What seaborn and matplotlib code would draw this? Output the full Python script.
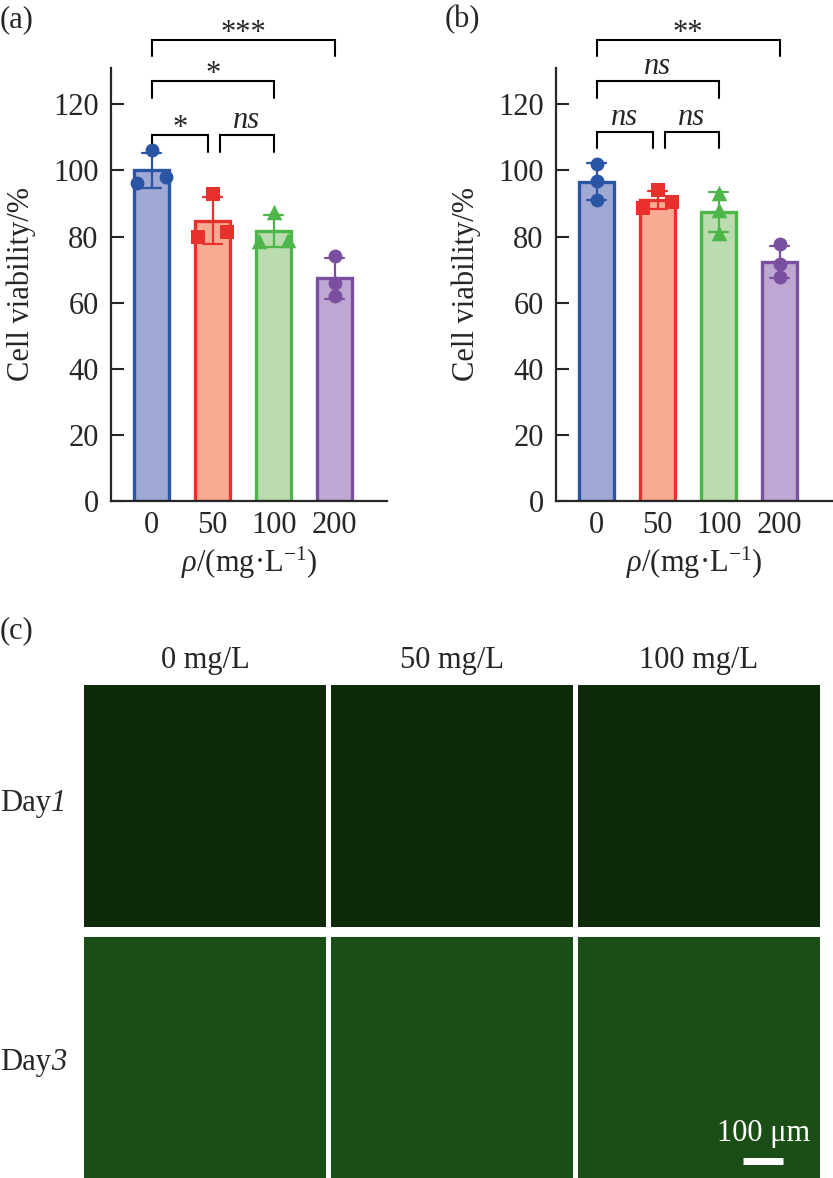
import numpy as np
import pandas as pd
import matplotlib as mpl
mpl.use('agg')
import matplotlib.pyplot as plt
import seaborn as sns

sns.set_style('ticks')
plt.rcParams['font.family'] = ['Liberation Serif', 'DejaVu Serif']
plt.rcParams['mathtext.fontset'] = 'custom'
plt.rcParams['mathtext.rm'] = 'Liberation Serif'
plt.rcParams['mathtext.it'] = 'Liberation Serif:italic'

# --- data
conc = ['0', '50', '100', '200']
viab_a = [[106.1, 96.1, 98.0], [93.0, 80.0, 81.3], [87.4, 78.7, 78.9], [74.2, 65.9, 62.1]]
viab_b = [[102.0, 96.8, 91.0], [94.0, 88.6, 90.4], [93.2, 88.0, 81.0], [77.6, 71.6, 67.8]]

# comparisons: (group i, group j, label)
comp_a = [(0, 3, '***'), (0, 2, '*'), (0, 1, '*'), (1, 2, 'ns')]
comp_b = [(0, 3, '**'), (0, 2, 'ns'), (0, 1, 'ns'), (1, 2, 'ns')]

img_cols = ['0 mg/L', '50 mg/L', '100 mg/L']
img_days = ['1', '3']

# --- styles
edge_cols = ['#2a55a5', '#e8302c', '#4cb748', '#7b4f9f']
fill_cols = ['#a0a8d4', '#f7ab93', '#badcaf', '#bea8d3']
markers = ['o', 's', '^', 'o']
msize = [100, 95, 125, 100]
fs = 22


def spread(vals, thr=3.0, dx=0.24):
    # put overlapping points side by side (like prism scatter)
    order = np.argsort(vals)
    off = np.zeros(len(vals))
    clusters = [[order[0]]]
    for k in order[1:]:
        if vals[k] - vals[clusters[-1][-1]] < thr:
            clusters[-1].append(k)
        else:
            clusters.append([k])
    for cl in clusters:
        n = len(cl)
        for m, k in enumerate(cl):
            off[k] = (m - (n - 1) / 2.) * 2 * dx / max(n - 1, 1) if n > 1 else 0.
    return off


def bar_panel(ax, vals, comps, small_y):
    df = pd.DataFrame({'conc': np.repeat(conc, 3),
                       'viab': np.concatenate(vals)})
    sns.barplot(data=df, x='conc', y='viab', hue='conc', order=conc,
                palette=fill_cols, saturation=1, errorbar='sd', capsize=0.31,
                width=0.57, err_kws={'linewidth': 1.6}, legend=False, ax=ax,
                zorder=2)
    for p in ax.patches:
        idx = int(round(p.get_x() + p.get_width() / 2))
        p.set_edgecolor(edge_cols[idx])
        p.set_linewidth(2.4)
    for ln in ax.lines:
        idx = int(round(np.nanmean(ln.get_xdata())))
        ln.set_color(edge_cols[idx])
        ln.set_zorder(3)
    for i, v in enumerate(vals):
        v = np.array(v)
        ax.scatter(i + spread(v), v, marker=markers[i], s=msize[i],
                   color=edge_cols[i], linewidths=0, zorder=4, clip_on=False)

    ax.set_xlim(-0.67, 3.86)
    ax.set_ylim(0, 131)
    ax.set_yticks(range(0, 121, 20))
    ax.set_xlabel(r'$\rho$/(mg·L$^{-1}$)', fontsize=fs, labelpad=4)
    ax.set_ylabel('Cell viability/%', fontsize=fs, labelpad=12)
    ax.tick_params(axis='y', direction='in', length=9, width=1.5, labelsize=fs, pad=9)
    ax.tick_params(axis='x', length=0, labelsize=fs, pad=7)
    sns.despine(ax=ax)
    for s in ['left', 'bottom']:
        ax.spines[s].set_linewidth(1.6)

    # significance brackets
    levels = {(0, 3): (139.5, 134.6), (0, 2): (127.1, 121.9)}
    for i, j, lab in comps:
        if (i, j) in levels:
            ytop, ybot = levels[(i, j)]
            x0, x1 = i, j
        else:
            ytop, ybot = small_y
            x0 = i + (0.12 if i > 0 else 0.)
            x1 = j - (0.08 if j - i == 1 and i == 0 else 0.)
        ax.plot([x0, x0, x1, x1], [ybot, ytop, ytop, ybot], color='k',
                lw=1.5, clip_on=False, solid_joinstyle='miter')
        if lab == 'ns':
            ax.annotate(lab, ((x0 + x1) / 2, ytop), xytext=(0, 5),
                        textcoords='offset points', ha='center', va='baseline',
                        fontsize=fs, style='italic', annotation_clip=False)
        else:
            ax.annotate(lab, ((x0 + x1) / 2, ytop), xytext=(0, -1),
                        textcoords='offset points', ha='center', va='baseline',
                        fontsize=fs, annotation_clip=False)


fig = plt.figure(figsize=(8.33, 11.78), dpi=100)
ax_a = fig.add_axes([0.1333, 0.5747, 0.3313, 0.3676])
ax_b = fig.add_axes([0.6675, 0.5747, 0.3313, 0.3676])
bar_panel(ax_a, viab_a, comp_a, (110.7, 105.5))
bar_panel(ax_b, viab_b, comp_b, (111.6, 106.7))

fig.text(0.0, 0.983, '(a)', fontsize=fs, va='center', ha='left')
fig.text(0.534, 0.983, '(b)', fontsize=fs, va='center', ha='left')
fig.text(0.0, 0.4643, '(c)', fontsize=fs, va='center', ha='left')

# --- (c) fluorescence image panels (placeholders)
col_left = [0.1008, 0.3974, 0.6939]
row_bottom = [0.2131, 0.0]
row_height = [0.2054, 0.2046]
row_y = [0.3115, 0.0917]
row_tint = ['#0e2a0b', '#1b4e16']
for r in range(2):
    for c in range(3):
        ax = fig.add_axes([col_left[c], row_bottom[r], 0.2905, row_height[r]])
        ax.set_facecolor(row_tint[r])
        ax.set_xticks([])
        ax.set_yticks([])
        for s in ax.spines.values():
            s.set_visible(False)
        if r == 1 and c == 2:
            ax.plot([0.682, 0.847], [0.07, 0.07], color='white', lw=5,
                    solid_capstyle='butt', transform=ax.transAxes)
            ax.text(0.765, 0.185, '100 μm', color='white', fontsize=fs,
                    ha='center', va='center', transform=ax.transAxes)
for c, lab in enumerate(img_cols):
    fig.text(col_left[c] + 0.2905 / 2, 0.4389, lab, fontsize=fs, ha='center', va='center')

renderer = fig.canvas.get_renderer()
for r, d in enumerate(img_days):
    t = fig.text(0.0, row_y[r], 'Day', fontsize=fs, ha='left', va='baseline')
    bb = t.get_window_extent(renderer).transformed(fig.transFigure.inverted())
    fig.text(bb.x1, row_y[r], d, fontsize=fs, style='italic', ha='left', va='baseline')

fig.savefig('out.png', dpi=100)
